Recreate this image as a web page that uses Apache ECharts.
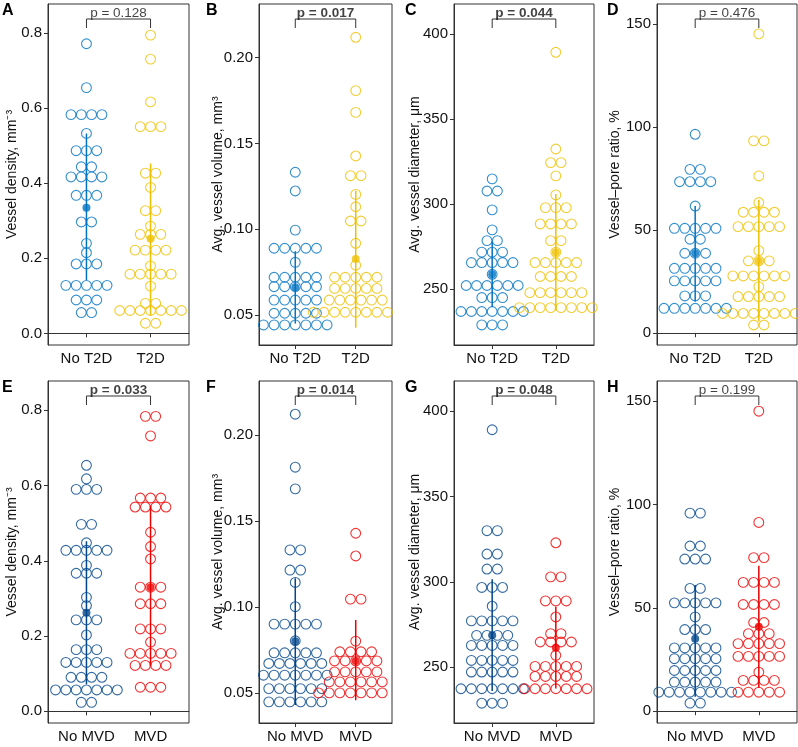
<!DOCTYPE html>
<html><head><meta charset="utf-8">
<script src="https://cdn.jsdelivr.net/npm/echarts@6/dist/echarts.min.js"></script>
<style>html,body{margin:0;padding:0;background:#fff}#c{width:798px;height:747px}</style>
</head><body><div id="c"></div>
<script>
// ---------- DATA (row value, number of dots in the row) ----------
const catsT2D = ['No T2D', 'T2D'];
const catsMVD = ['No MVD', 'MVD'];

const A_noT2D = [[0.772,1],[0.655,1],[0.583,4],[0.533,1],[0.487,3],[0.444,2],[0.417,4],[0.368,3],[0.297,2],[0.240,1],[0.215,1],[0.185,3],[0.128,5],[0.089,3],[0.0555,2]];
const A_T2D   = [[0.795,1],[0.731,1],[0.617,1],[0.551,3],[0.427,2],[0.389,1],[0.327,2],[0.286,1],[0.264,3],[0.222,4],[0.180,1],[0.158,5],[0.126,1],[0.080,2],[0.061,7],[0.027,2]];
const B_noT2D = [[0.1332,1],[0.1223,1],[0.0995,1],[0.0889,5],[0.0807,1],[0.0720,5],[0.0665,5],[0.0587,5],[0.0510,5],[0.0442,7]];
const B_T2D   = [[0.2119,1],[0.1808,1],[0.1681,1],[0.1427,1],[0.1312,2],[0.1203,1],[0.1131,1],[0.1048,2],[0.0918,1],[0.0790,1],[0.0720,5],[0.0655,5],[0.0587,6],[0.0516,9]];
const C_noT2D = [[314.9,1],[307.8,2],[296.7,1],[284.9,1],[278.6,2],[271.8,3],[265.7,5],[258.8,1],[252.2,6],[245.1,3],[236.9,7],[229.0,3]];
const C_T2D   = [[389.4,1],[332.5,1],[324.5,2],[316.7,1],[305.5,1],[298.0,3],[288.4,4],[278.6,2],[271.8,1],[265.7,5],[257.5,4],[248.0,6],[239.2,8]];
const D_noT2D = [[96.5,1],[79.5,2],[73.5,4],[61.7,1],[50.9,5],[45.6,2],[38.8,3],[31.5,5],[25.4,5],[18.1,3],[12.1,7]];
const D_T2D   = [[145.2,1],[93.3,2],[76.3,1],[63.4,1],[58.7,4],[51.7,5],[40.1,1],[35.1,3],[27.8,6],[22.6,1],[17.8,5],[9.6,8],[4.0,2]];
const E_noMVD = [[0.654,1],[0.618,1],[0.590,3],[0.497,2],[0.448,1],[0.428,5],[0.388,1],[0.367,3],[0.303,1],[0.281,1],[0.243,3],[0.203,1],[0.164,3],[0.130,5],[0.0905,4],[0.0568,7],[0.024,2]];
const E_MVD   = [[0.784,2],[0.732,1],[0.567,3],[0.543,4],[0.476,1],[0.438,1],[0.405,1],[0.330,3],[0.286,3],[0.219,3],[0.184,1],[0.154,5],[0.122,4],[0.064,3]];
const F_noMVD = [[0.2120,1],[0.1812,1],[0.1686,1],[0.1331,2],[0.1214,2],[0.1142,1],[0.1001,1],[0.0900,5],[0.0803,1],[0.0733,5],[0.0671,6],[0.0603,7],[0.0525,6],[0.0448,6]];
const F_MVD   = [[0.1428,1],[0.1296,1],[0.1045,2],[0.0801,1],[0.0739,4],[0.0686,5],[0.0622,5],[0.0564,6],[0.0500,8]];
const G_noMVD = [[389.2,1],[330.0,2],[316.3,2],[307.5,2],[296.7,3],[285.7,1],[277.1,5],[268.6,4],[262.7,5],[253.9,5],[247.1,5],[237.3,7],[228.8,3]];
const G_MVD   = [[322.9,1],[302.9,2],[288.8,3],[279.4,1],[269.6,2],[264.7,4],[256.9,1],[250.4,5],[244.5,5],[237.3,7]];
const H_noMVD = [[95.8,2],[79.9,2],[73.6,3],[59.4,2],[52.4,5],[45.6,1],[39.5,3],[30.6,5],[25.4,5],[19.7,5],[14.1,5],[9.2,8],[3.9,2]];
const H_MVD   = [[145.1,1],[91.3,1],[74.3,2],[62.3,4],[51.6,4],[42.9,2],[37.5,3],[32.7,5],[26.5,5],[18.9,1],[14.9,4],[9.2,5]];

// summary: [mean, lower, upper]
const A_stats = [[0.335,0.142,0.533],[0.252,0.047,0.453]];
const B_stats = [[0.0661,0.0451,0.0871],[0.0826,0.0426,0.1224]];
const C_stats = [[258.8,239.5,278.0],[271.8,237.5,306.0]];
const D_stats = [[38.8,15.4,61.7],[35.1,5.7,64.7]];
const E_stats = [[0.262,0.072,0.452],[0.330,0.120,0.547]];
const F_stats = [[0.0800,0.0430,0.1166],[0.0686,0.0457,0.0923]];
const G_stats = [[268.6,236.0,301.5],[261.4,237.4,285.4]];
const H_stats = [[35.1,7.0,61.0],[40.8,11.3,70.3]];

const pLabels = ['p = 0.128','p = 0.017','p = 0.044','p = 0.476','p = 0.033','p = 0.014','p = 0.048','p = 0.199'];
const pBold   = [false,true,true,false,true,true,true,false];

const ticksDensity  = [0, 0.2, 0.4, 0.6, 0.8];
const ticksVolume   = [0.05, 0.10, 0.15, 0.20];
const ticksDiameter = [250, 300, 350, 400];
const ticksRatio    = [0, 50, 100, 150];

const yTitles = ['Vessel density, mm\u207B\u00B3', 'Avg. vessel volume, mm\u00B3', 'Avg. vessel diameter, \u03BCm', 'Vessel\u2013pore ratio, %'];

// ---------- STYLE / LAYOUT ----------
const colTop = ['#0073C2', '#EFC000'];
const colBot = ['#00468B', '#ED0000'];
const FONT = "'Liberation Sans', Arial, Helvetica, sans-serif";

const cols = [
  {left:48,  width:141, step:10.3, ticks:ticksDensity,  dec:1, min:-0.031, max:0.878, gap:29, title:yTitles[0]},
  {left:259, width:133, step:10.6, ticks:ticksVolume,   dec:2, min:0.0325, max:0.2313, gap:34, title:yTitles[1]},
  {left:454, width:140, step:10.4, ticks:ticksDiameter, dec:0, min:217.2,  max:417.8,  gap:32, title:yTitles[2]},
  {left:657, width:140, step:10.4, ticks:ticksRatio,    dec:0, min:-5.7,   max:159.7,  gap:35, title:yTitles[3]}
];
const rowsCfg = [
  {top:4,   height:341, cats:catsT2D, colors:colTop},
  {top:381, height:342, cats:catsMVD, colors:colBot}
];
const panelData = [
  [A_noT2D, A_T2D, A_stats], [B_noT2D, B_T2D, B_stats], [C_noT2D, C_T2D, C_stats], [D_noT2D, D_T2D, D_stats],
  [E_noMVD, E_MVD, E_stats], [F_noMVD, F_MVD, F_stats], [G_noMVD, G_MVD, G_stats], [H_noMVD, H_MVD, H_stats]
];
const letters = ['A','B','C','D','E','F','G','H'];
const letterX = [2, 206, 405, 607];

const grids = [], xAxes = [], yAxes = [], series = [], titles = [];
const XMIN = 0.4, XMAX = 2.6;

for (let p = 0; p < 8; p++) {
  const c = cols[p % 4], r = rowsCfg[Math.floor(p / 4)];
  const [g0, g1, stats] = panelData[p];
  grids.push({left:c.left, top:r.top, width:c.width, height:r.height, show:true, borderColor:'#333', borderWidth:1, backgroundColor:'transparent'});
  const cats = r.cats;
  xAxes.push({
    gridIndex:p, type:'value', min:XMIN, max:XMAX,
    axisLine:{show:true, lineStyle:{color:'#333', width:1}},
    axisTick:{show:true, customValues:[1,2], length:4, lineStyle:{color:'#333'}},
    axisLabel:{show:true, customValues:[1,2], formatter:v => cats[Math.round(v)-1], fontSize:15, color:'#111', margin:6, fontFamily:FONT},
    splitLine:{show:false}
  });
  yAxes.push({
    gridIndex:p, type:'value', min:c.min, max:c.max,
    name:c.title, nameLocation:'middle', nameGap:c.gap, nameMoveOverlap:false,
    nameTextStyle:{fontSize:14, color:'#111', fontFamily:FONT},
    axisLine:{show:true, lineStyle:{color:'#333', width:1}},
    axisTick:{show:true, customValues:c.ticks, length:4, lineStyle:{color:'#333'}},
    axisLabel:{show:true, customValues:c.ticks, formatter:v => Number(v).toFixed(c.dec), fontSize:15, color:'#111', margin:6, fontFamily:FONT},
    splitLine:{show:false}
  });
  const stepData = c.step * (XMAX - XMIN) / c.width;
  [g0, g1].forEach((rows, gi) => {
    const pts = [];
    rows.forEach(([v, n]) => {
      for (let k = 0; k < n; k++) pts.push([gi + 1 + (k - (n - 1) / 2) * stepData, v]);
    });
    const col = r.colors[gi];
    series.push({type:'scatter', xAxisIndex:p, yAxisIndex:p, data:pts, symbol:'circle', symbolSize:9.8,
      itemStyle:{color:'rgba(255,255,255,0)', borderColor:col, borderWidth:1.1}, z:2, silent:true});
    const s = stats[gi];
    series.push({type:'line', xAxisIndex:p, yAxisIndex:p, data:[[gi+1, s[1]],[gi+1, s[2]]], symbol:'none',
      lineStyle:{color:col, width:1.5}, z:3, silent:true});
    series.push({type:'scatter', xAxisIndex:p, yAxisIndex:p, data:[[gi+1, s[0]]], symbol:'circle', symbolSize:8,
      itemStyle:{color:col}, z:4, silent:true});
  });
  // significance bracket
  const span = c.max - c.min;
  const yt = c.max - span * 15 / r.height;
  const yb = c.max - span * 24 / r.height;
  series.push({type:'line', xAxisIndex:p, yAxisIndex:p, data:[[1,yb],[1,yt],[2,yt],[2,yb]], symbol:'none',
    lineStyle:{color:'#333', width:1}, z:5, silent:true});
  series.push({type:'scatter', xAxisIndex:p, yAxisIndex:p, data:[[1.5, yt]], symbolSize:0, z:6, silent:true,
    label:{show:true, position:'top', distance:-1, formatter:pLabels[p], fontSize:13.5, fontWeight:pBold[p]?'bold':'normal', color:'#111', fontFamily:FONT}});
  titles.push({text:letters[p], left:letterX[p % 4], top:r.top - 1, padding:0,
    textStyle:{fontSize:16, fontWeight:'bold', color:'#000', fontFamily:FONT}});
}

const chart = echarts.init(document.getElementById('c'), null, {renderer:'canvas'});
chart.setOption({
  animation:false,
  textStyle:{fontFamily:FONT},
  title:titles, grid:grids, xAxis:xAxes, yAxis:yAxes, series:series
});
</script></body></html>
